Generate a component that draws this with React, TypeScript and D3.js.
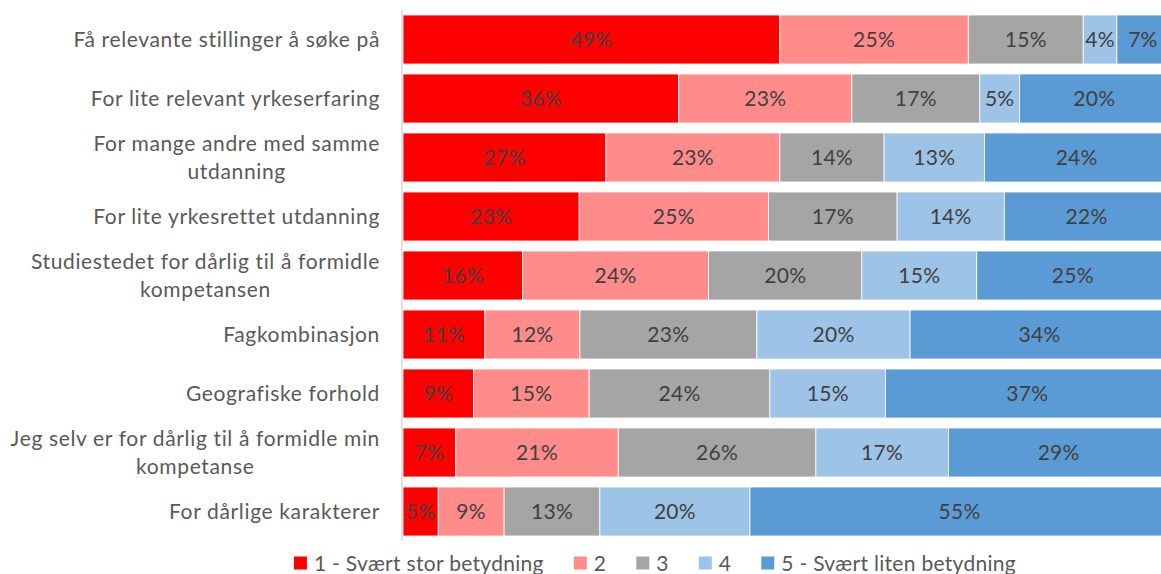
import React, { useEffect, useRef } from "react";
import * as d3 from "d3";

const categories = [
  "Få relevante stillinger å søke på",
  "For lite relevant yrkeserfaring",
  "For mange andre med samme\nutdanning",
  "For lite yrkesrettet utdanning",
  "Studiestedet for dårlig til å formidle\nkompetansen",
  "Fagkombinasjon",
  "Geografiske forhold",
  "Jeg selv er for dårlig til å formidle min\nkompetanse",
  "For dårlige karakterer",
];

const seriesNames = ["1 - Svært stor betydning", "2", "3", "4", "5 - Svært liten betydning"];
const seriesColors = ["#FF0000", "#FF8B8B", "#A5A5A5", "#9DC3E6", "#5B9BD5"];

const s1 = [49.2, 36.0, 26.5, 23.0, 15.6, 10.7, 9.2, 6.9, 4.6];
const s2 = [24.6, 22.6, 22.7, 24.7, 24.3, 12.4, 15.1, 21.2, 8.6];
const s3 = [15.0, 16.7, 13.6, 16.8, 20.0, 23.1, 23.6, 25.8, 12.5];
const s4 = [4.4, 5.2, 13.1, 14.0, 15.0, 20.0, 15.1, 17.3, 19.6];
const s5 = [6.8, 19.5, 24.1, 21.5, 25.1, 33.8, 37.0, 28.8, 54.7];
const labels1 = [49, 36, 27, 23, 16, 11, 9, 7, 5];
const labels2 = [25, 23, 23, 25, 24, 12, 15, 21, 9];
const labels3 = [15, 17, 14, 17, 20, 23, 24, 26, 13];
const labels4 = [4, 5, 13, 14, 15, 20, 15, 17, 20];
const labels5 = [7, 20, 24, 22, 25, 34, 37, 29, 55];

const W = 1161;
const H = 574;
const FONT = "Lato, 'Open Sans', sans-serif";
const FS = 21;
const LS = 0.3;
const LS_CAT = 0.65;

export default function App() {
  const ref = useRef<SVGSVGElement | null>(null);

  useEffect(() => {
    const svg = d3.select(ref.current);
    svg.selectAll("*").remove();

    const seriesVals = [s1, s2, s3, s4, s5];
    const seriesLabels = [labels1, labels2, labels3, labels4, labels5];
    const rows = categories.map((c, i) => {
      const r: any = { cat: c };
      seriesNames.forEach((n, k) => (r[n] = seriesVals[k][i]));
      return r;
    });
    const stack = d3.stack<any>().keys(seriesNames);
    const stacked = stack(rows);

    const x = d3.scaleLinear().domain([0, 100]).range([403, 1169]);
    const y = d3
      .scaleBand<string>()
      .domain(categories)
      .range([10, 541])
      .paddingInner(10 / 59)
      .paddingOuter(5 / 59);

    const g = svg.append("g");

    stacked.forEach((layer, k) => {
      const lg = g.append("g");
      lg.selectAll("rect")
        .data(layer)
        .join("rect")
        .attr("x", (d) => x(d[0]))
        .attr("y", (d: any) => y(d.data.cat)!)
        .attr("width", (d) => x(d[1]) - x(d[0]))
        .attr("height", y.bandwidth())
        .attr("fill", seriesColors[k])
        .attr("stroke", "#ffffff")
        .attr("stroke-width", 0.8);
      lg.selectAll("text")
        .data(layer)
        .join("text")
        .attr("x", (d) => (x(d[0]) + x(d[1])) / 2)
        .attr("y", (d: any) => y(d.data.cat)! + y.bandwidth() / 2)
        .attr("dy", "0.36em")
        .attr("text-anchor", "middle")
        .attr("font-family", FONT)
        .attr("font-size", FS)
        .attr("letter-spacing", LS)
        .attr("fill", "#404040")
        .text((d, i) => seriesLabels[k][i] + "%");
    });

    // axis line
    svg
      .append("line")
      .attr("x1", 402)
      .attr("x2", 402)
      .attr("y1", 10)
      .attr("y2", 541)
      .attr("stroke", "#D9D9D9")
      .attr("stroke-width", 1.5);

    // category labels
    const right = 380;
    const lineH = 28;
    categories.forEach((c) => {
      const lines = c.split("\n");
      const t = svg
        .append("text")
        .attr("font-family", FONT)
        .attr("font-size", FS)
        .attr("letter-spacing", LS_CAT)
        .attr("fill", "#595959")
        .attr("text-anchor", "middle");
      const cy = y(c)! + y.bandwidth() / 2;
      const spans = lines.map((l, i) =>
        t
          .append("tspan")
          .attr("y", cy + (i - (lines.length - 1) / 2) * lineH)
          .attr("dy", "0.36em")
          .text(l)
      );
      let maxW = 0;
      spans.forEach((s) => {
        const w = (s.node() as SVGTextContentElement).getComputedTextLength();
        if (w > maxW) maxW = w;
      });
      spans.forEach((s) => s.attr("x", right - maxW / 2));
    });

    // legend
    const lgd = svg.append("g");
    const items: { g: any; w: number }[] = [];
    seriesNames.forEach((n, k) => {
      const ig = lgd.append("g");
      ig.append("rect").attr("x", 0).attr("y", -6.5).attr("width", 13).attr("height", 13).attr("fill", seriesColors[k]);
      const tx = ig
        .append("text")
        .attr("x", 20)
        .attr("dy", "0.36em")
        .attr("font-family", FONT)
        .attr("font-size", FS)
        .attr("letter-spacing", LS)
        .attr("fill", "#595959")
        .text(n);
      const w = 20 + (tx.node() as SVGTextContentElement).getComputedTextLength();
      items.push({ g: ig, w });
    });
    const gap = 30;
    const total = items.reduce((a, b) => a + b.w, 0) + gap * (items.length - 1);
    let cx = 655 - total / 2;
    items.forEach((it) => {
      it.g.attr("transform", `translate(${cx},563)`);
      cx += it.w + gap;
    });
  }, []);

  return (
    <svg
      ref={ref}
      width={W}
      height={H}
      style={{ position: "absolute", left: 0, top: 0, background: "#fff" }}
    />
  );
}
